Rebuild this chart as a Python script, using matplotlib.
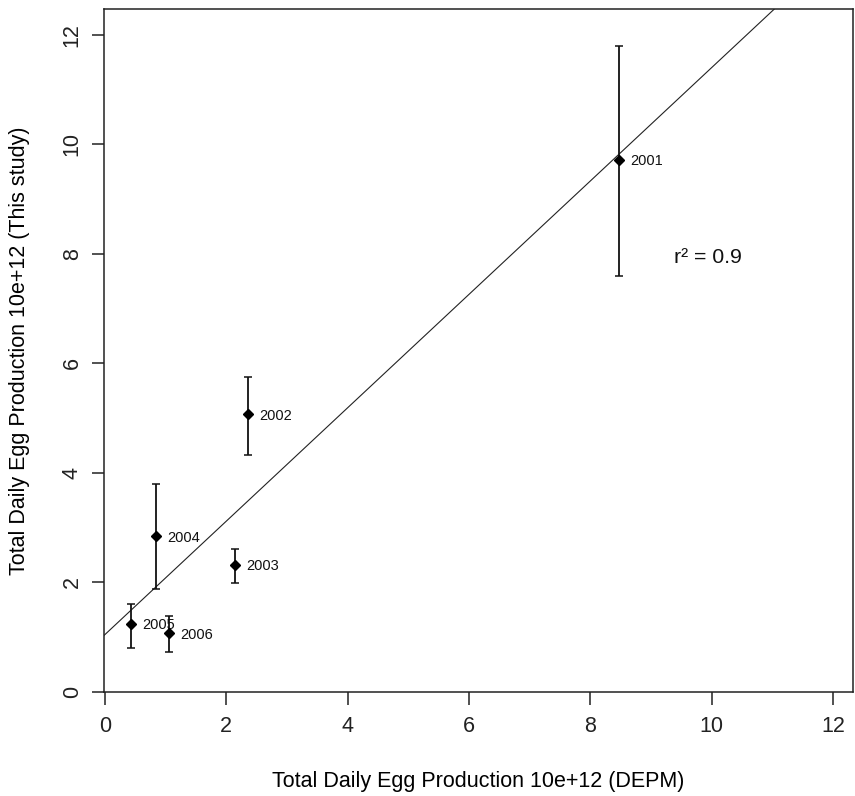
import matplotlib
matplotlib.use("Agg")
import matplotlib.pyplot as plt

plt.rcParams['font.family'] = ['Liberation Sans', 'DejaVu Sans']

years = ["2001", "2002", "2003", "2004", "2005", "2006"]
depm = [8.48, 2.36, 2.15, 0.84, 0.43, 1.06]
this_study = [9.72, 5.07, 2.32, 2.84, 1.24, 1.07]
err_low = [7.60, 4.33, 1.99, 1.88, 0.80, 0.73]
err_high = [11.79, 5.75, 2.61, 3.79, 1.61, 1.38]
fit_intercept = 1.05
fit_slope = 1.035
ticks = [0, 2, 4, 6, 8, 10, 12]

fig = plt.figure(figsize=(8.55, 7.96), dpi=100)
W, H = 855, 796
left, right, top, bottom = 103.5, 853, 9, 692
ax = fig.add_axes([left / W, 1 - bottom / H, (right - left) / W, (bottom - top) / H])

yerr = [[v - lo for v, lo in zip(this_study, err_low)],
        [hi - v for v, hi in zip(this_study, err_high)]]
ax.errorbar(depm, this_study, yerr=yerr, fmt='D', color='black', ms=5.5,
            ecolor='#111111', elinewidth=1.3, capsize=3, capthick=1.1, zorder=3)
ax.axline((0, fit_intercept), slope=fit_slope, color='#222222', lw=0.8, zorder=2)

for yr, x, y in zip(years, depm, this_study):
    ax.annotate(yr, (x, y), xytext=(8, -1), textcoords='offset points',
                ha='left', va='center', fontsize=10.5, color='#111111')

ax.text(9.38, 7.93, "r² = 0.9", fontsize=15.3, ha='left', va='center', color='#111111')

ax.set_xlim(-0.025, 12.33)
ax.set_ylim(0, 12.47)
ax.set_xticks(ticks)
ax.set_yticks(ticks)
ax.set_xticklabels([str(t) for t in ticks], fontsize=15.5)
ax.set_yticklabels([str(t) for t in ticks], fontsize=15.5, rotation=90, va='center')
ax.tick_params(direction='out', length=9, width=1.1, colors='#222222', pad=8)
ax.tick_params(axis='y', pad=6)
for s in ax.spines.values():
    s.set_linewidth(1.1)
    s.set_color('#222222')

ax.set_xlabel("Total Daily Egg Production 10e+12 (DEPM)", fontsize=15.5, labelpad=25)
ax.set_ylabel("Total Daily Egg Production 10e+12 (This study)", fontsize=15.5, labelpad=23)

fig.savefig("out.png", dpi=100)
